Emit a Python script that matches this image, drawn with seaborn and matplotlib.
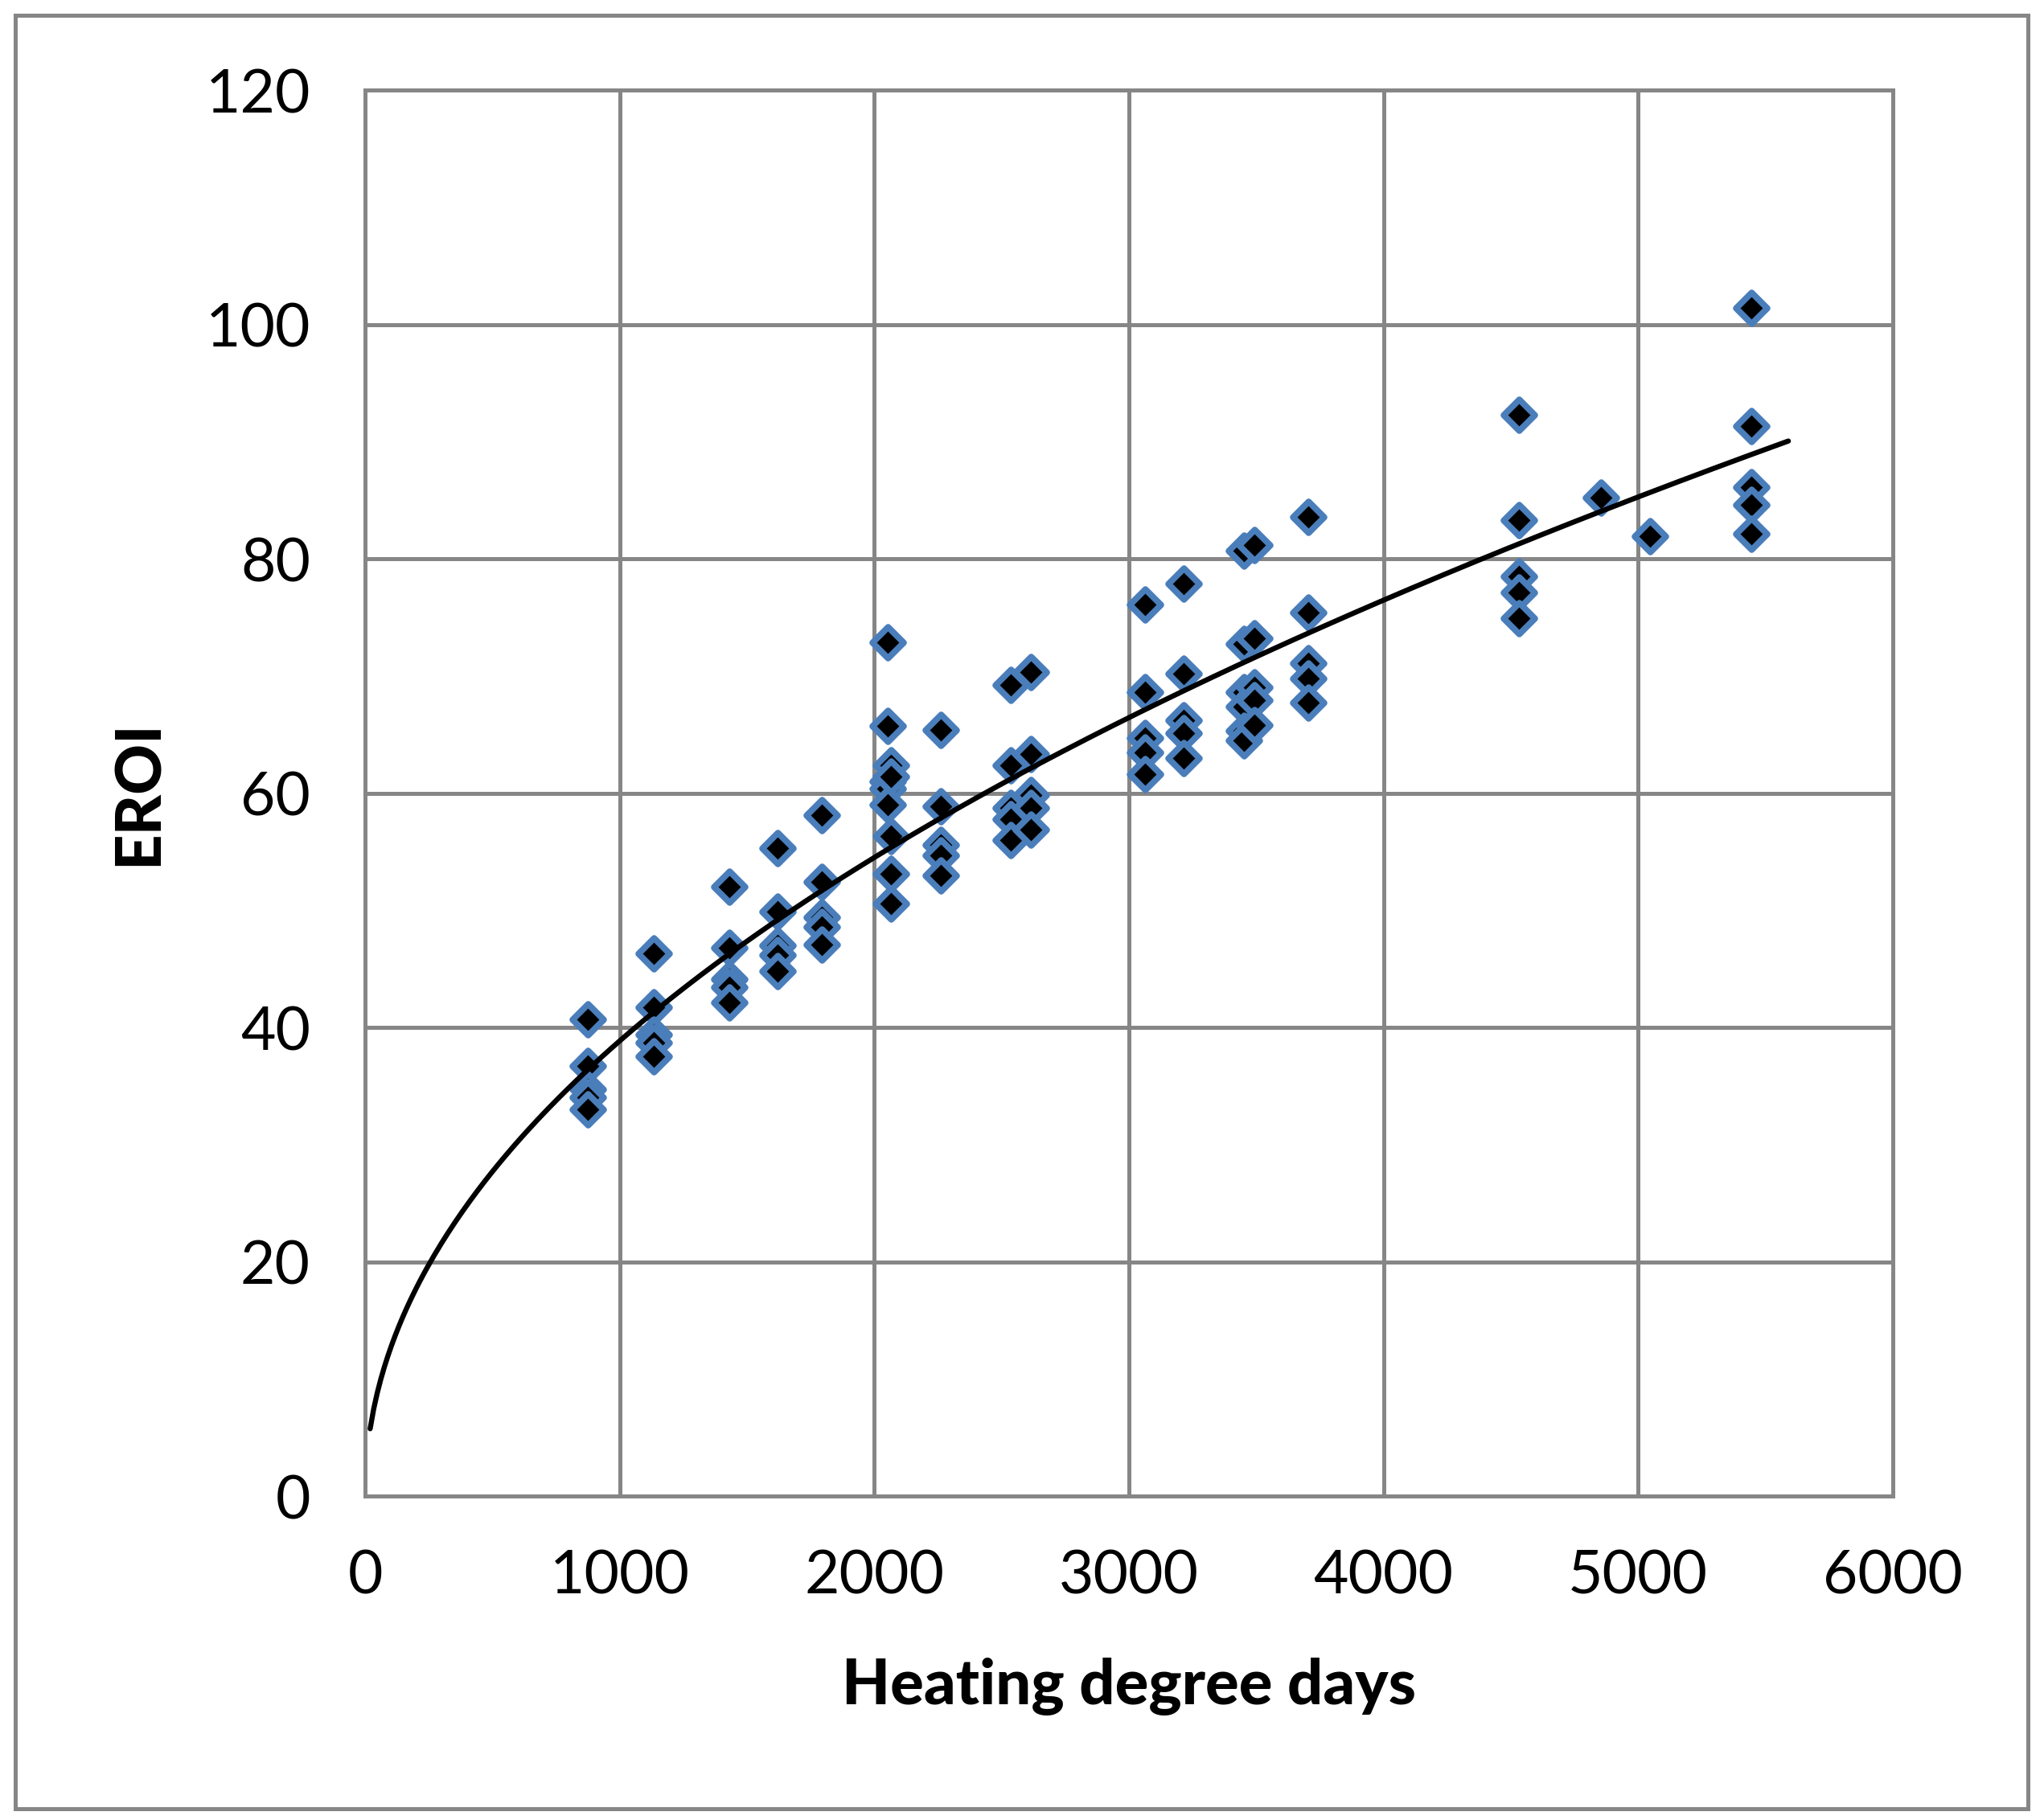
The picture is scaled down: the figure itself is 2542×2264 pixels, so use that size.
import matplotlib
matplotlib.use("Agg")
import matplotlib.pyplot as plt
import numpy as np
import pandas as pd
import seaborn as sns
from matplotlib.patches import Rectangle

# heating degree days and EROI
hdd = [876, 876, 876, 876, 876,
       1134, 1134, 1134, 1134, 1134,
       1432, 1432, 1432, 1432, 1432,
       1620, 1620, 1620, 1620, 1620,
       1794, 1794, 1794, 1794, 1794,
       2052, 2052, 2052, 2052, 2052,
       2066, 2066, 2066, 2066, 2066,
       2261, 2261, 2261, 2261, 2261,
       2537, 2537, 2537, 2537, 2537,
       2616, 2616, 2616, 2616, 2616,
       3064, 3064, 3064, 3064, 3064,
       3215, 3215, 3215, 3215, 3215,
       3452, 3452, 3452, 3452, 3452, 3452,
       3492, 3492, 3492, 3492, 3492,
       3703, 3703, 3703, 3703, 3703,
       4531, 4531, 4531, 4531, 4531,
       4855, 5048,
       5444, 5444, 5444, 5444, 5444]
eroi = [40.7, 36.7, 34.7, 34.0, 33.0,
        46.3, 41.7, 39.4, 38.7, 37.5,
        52.0, 46.8, 44.1, 43.4, 42.1,
        55.3, 49.9, 47.0, 46.2, 44.8,
        58.1, 52.4, 49.4, 48.6, 47.1,
        72.9, 65.7, 61.0, 60.4, 59.0,
        62.4, 61.4, 56.3, 53.1, 50.6,
        65.4, 58.9, 55.6, 54.7, 53.0,
        69.2, 62.4, 58.7, 57.8, 56.0,
        70.3, 63.3, 59.8, 58.7, 56.9,
        76.1, 68.6, 64.7, 63.5, 61.6,
        77.9, 70.2, 66.2, 65.1, 63.0,
        80.7, 72.7, 68.6, 67.4, 65.3, 64.5,
        81.2, 73.2, 69.0, 67.9, 65.8,
        83.6, 75.4, 71.1, 69.8, 67.7,
        92.3, 83.3, 78.5, 77.1, 74.9,
        85.2, 81.9,
        101.4, 91.3, 86.1, 84.6, 82.1]

x_ticks = [0, 1000, 2000, 3000, 4000, 5000, 6000]
y_ticks = [0, 20, 40, 60, 80, 100, 120]
trend_range = (20, 5590)

df = pd.DataFrame({"hdd": hdd, "eroi": eroi})

# power trend line (least squares on log-log, like the spreadsheet)
b, ln_a = np.polyfit(np.log(df.hdd), np.log(df.eroi), 1)
xs = np.linspace(trend_range[0], trend_range[1], 400)
trend = pd.DataFrame({"hdd": xs, "eroi": np.exp(ln_a) * xs ** b})

sns.set_style("white")
plt.rcParams['font.family'] = ['Lato', 'DejaVu Sans']

grid_col = "#868686"
fig = plt.figure(figsize=(25.42, 22.64), dpi=100)
ax = fig.add_axes([0.1786, 0.178, 0.926 - 0.1786, 0.9505 - 0.178])

sns.lineplot(data=trend, x="hdd", y="eroi", ax=ax, color="black",
             linewidth=4.6, zorder=4)
sns.scatterplot(data=df, x="hdd", y="eroi", ax=ax, marker="D", s=390,
                color="black", edgecolor="#4a7ebb", linewidth=5.6, zorder=3)

ax.set_xlim(0, 6000)
ax.set_ylim(0, 120)
ax.set_xticks(x_ticks)
ax.set_yticks(y_ticks)
ax.grid(True, color=grid_col, linewidth=3.6)
ax.set_axisbelow(True)
for sp in ax.spines.values():
    sp.set_color(grid_col)
    sp.set_linewidth(3.6)
ax.tick_params(axis="both", direction="out", length=19, width=3.6,
               color=grid_col, labelsize=54, pad=28, labelcolor="black")
ax.tick_params(axis="y", pad=30)

ax.set_xlabel("Heating degree days", fontsize=56, fontweight="black",
              labelpad=48, color="black")
ax.set_ylabel("EROI", fontsize=56, fontweight="black", labelpad=34,
              color="black")

# outer chart border
fig.patches.append(Rectangle((19 / 2542, 1 - 2250 / 2264), (2522 - 19) / 2542,
                             (2250 - 19) / 2264, transform=fig.transFigure,
                             fill=False, edgecolor=grid_col, linewidth=3.6))

fig.savefig("out.png", dpi=100)
